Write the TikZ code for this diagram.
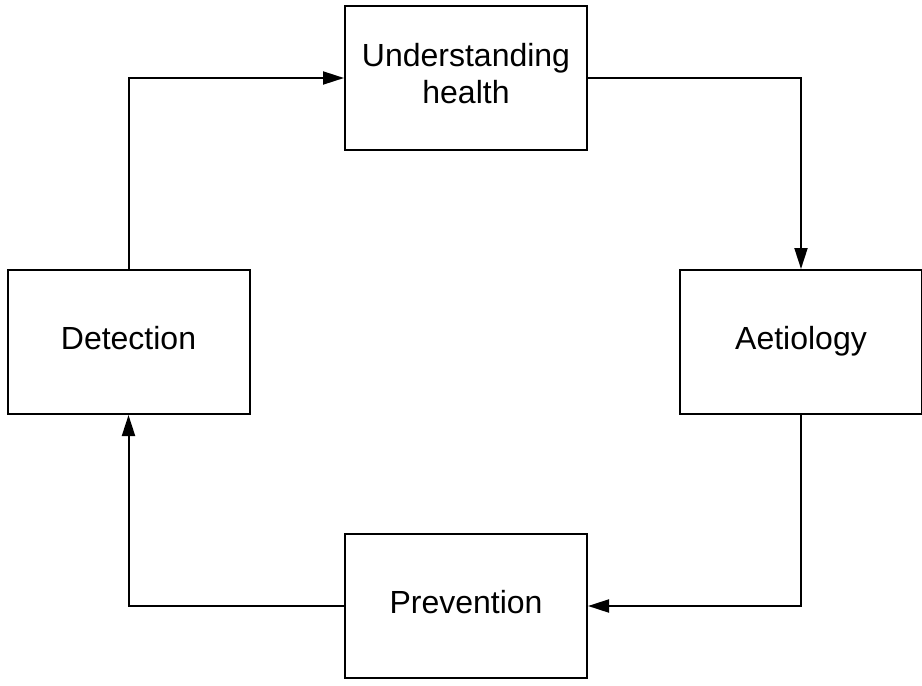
\documentclass[tikz,border=0pt]{standalone}
\usepackage{fontspec}
\setmainfont{Liberation Sans}
\usetikzlibrary{arrows.meta}
\begin{document}
\begin{tikzpicture}[x=0.75pt,y=-0.75pt,
    stage/.style={draw,line width=1.5pt,minimum width=181.5pt,minimum height=108pt,
      align=center,inner sep=0pt,font=\fontsize{24pt}{27.75pt}\selectfont},
    oneline/.style={stage,text height=17.3pt,text depth=6.1pt},
    flow/.style={line width=1.5pt,-{Triangle[length=15.75pt,width=9.75pt]}}]
        \useasboundingbox (0,0) rectangle (922,686);
        \node[stage] (und) at (466,78) {Understanding\\health\rule[-7.5pt]{0pt}{0pt}};
        \node[oneline] (aet) at (801,342) {Aetiology};
        \node[oneline] (prev) at (466,606) {Prevention};
        \node[oneline] (det) at (128.5,342) {Detection};
        \draw[flow] (det.north) |- (und.west);
        \draw[flow] (und.east) -| (aet.north);
        \draw[flow] (aet.south) |- (prev.east);
        \draw[flow] (prev.west) -| (det.south);
      \end{tikzpicture}
\end{document}
